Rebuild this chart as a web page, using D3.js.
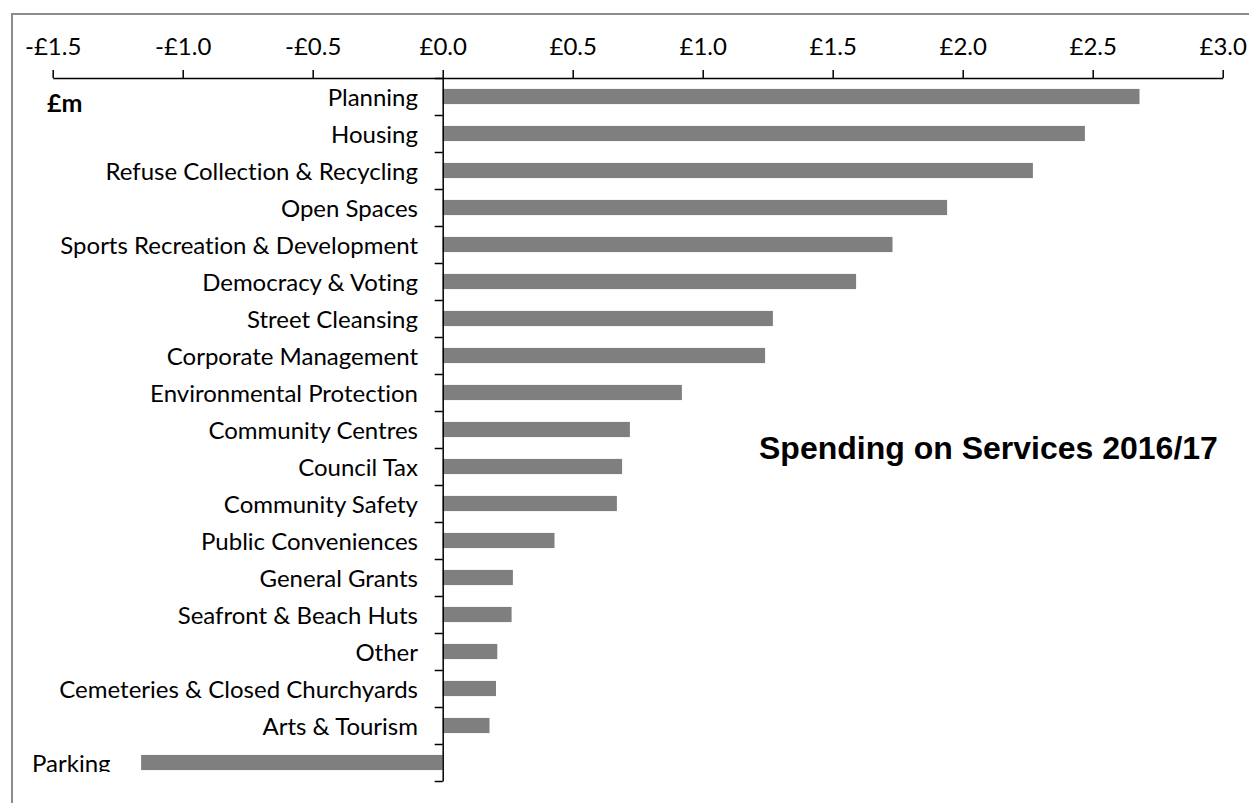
<!DOCTYPE html>
<html>
<head>
<meta charset="utf-8">
<script src="https://cdn.jsdelivr.net/npm/d3@7"></script>
<style>
  body { margin: 0; background: #fff; }
  svg { display: block; }
  text { font-variant-ligatures: none; }
</style>
</head>
<body>
<script>
// spending per service, £m
const services = ["Planning", "Housing", "Refuse Collection & Recycling", "Open Spaces",
  "Sports Recreation & Development", "Democracy & Voting", "Street Cleansing",
  "Corporate Management", "Environmental Protection", "Community Centres", "Council Tax",
  "Community Safety", "Public Conveniences", "General Grants", "Seafront & Beach Huts",
  "Other", "Cemeteries & Closed Churchyards", "Arts & Tourism", "Parking"];
const spend = [2.68, 2.47, 2.27, 1.94, 1.73, 1.59, 1.27, 1.24, 0.92, 0.72, 0.69,
  0.67, 0.43, 0.27, 0.265, 0.21, 0.205, 0.18, -1.16];
const xTicks = [-1.5, -1.0, -0.5, 0, 0.5, 1.0, 1.5, 2.0, 2.5, 3.0];

const W = 1249, H = 803;
const font = "Lato, 'Open Sans', sans-serif";

let svg = d3.select("body").append("svg")
  .attr("width", W).attr("height", H);

// chart border (only top & left visible)
svg.append("path")
  .attr("d", "M12,803 L12,14 L1249,14")
  .attr("fill", "none").attr("stroke", "#8c8c8c").attr("stroke-width", 2);

let x = d3.scaleLinear().domain([-1.5, 3]).range([52.7, 1222.7]);
let y = d3.scaleBand().domain(services).range([78, 781])
  .paddingInner(0.59).paddingOuter(0.295);

// top value axis
let xAxis = d3.axisTop(x).tickValues(xTicks)
  .tickSizeInner(8).tickSizeOuter(0).tickPadding(15)
  .tickFormat(d => (d < 0 ? "-" : "") + "£" + Math.abs(d).toFixed(1));
let gx = svg.append("g").attr("transform", "translate(0,78)").call(xAxis);
gx.selectAll("path, line").attr("stroke", "#000").attr("stroke-width", 1.5);
gx.selectAll("text").attr("font-family", font).attr("font-size", 24).attr("fill", "#000");

svg.append("defs").append("clipPath").attr("id", "plotclip")
  .append("rect").attr("x", 0).attr("y", 0).attr("width", W).attr("height", 772);

// bars
svg.append("g").selectAll("rect")
  .data(services)
  .join("rect")
  .attr("x", (d, i) => x(Math.min(0, spend[i])))
  .attr("y", d => y(d))
  .attr("width", (d, i) => Math.abs(x(spend[i]) - x(0)))
  .attr("height", y.bandwidth())
  .attr("fill", "#7f7f7f");

// category axis at zero, ticks between categories
let idx = d3.scaleLinear().domain([0, services.length]).range([78, 781]);
let yAxis = d3.axisLeft(idx).tickValues(d3.range(services.length + 1))
  .tickSizeInner(8).tickSizeOuter(0).tickFormat("");
let gy = svg.append("g").attr("transform", `translate(${x(0)},0)`).call(yAxis);
gy.selectAll("path, line").attr("stroke", "#000").attr("stroke-width", 1.5);

// category labels
svg.append("g").attr("clip-path", "url(#plotclip)").selectAll("text")
  .data(services)
  .join("text")
  .attr("x", (d, i) => spend[i] < 0 ? 32 : 418)
  .attr("y", d => y(d) + y.bandwidth() / 2)
  .attr("dy", "0.4em")
  .attr("text-anchor", (d, i) => spend[i] < 0 ? "start" : "end")
  .attr("font-family", font).attr("font-size", 24).attr("fill", "#000")
  .text(d => d);

svg.append("text")
  .attr("x", 47).attr("y", 112)
  .attr("font-family", font).attr("font-size", 25).attr("font-weight", "bold")
  .text("£m");

svg.append("text")
  .attr("x", 759).attr("y", 459)
  .attr("font-family", "'Liberation Sans', Arial, sans-serif")
  .attr("font-size", 32).attr("font-weight", "bold")
  .text("Spending on Services 2016/17");
</script>
</body>
</html>
